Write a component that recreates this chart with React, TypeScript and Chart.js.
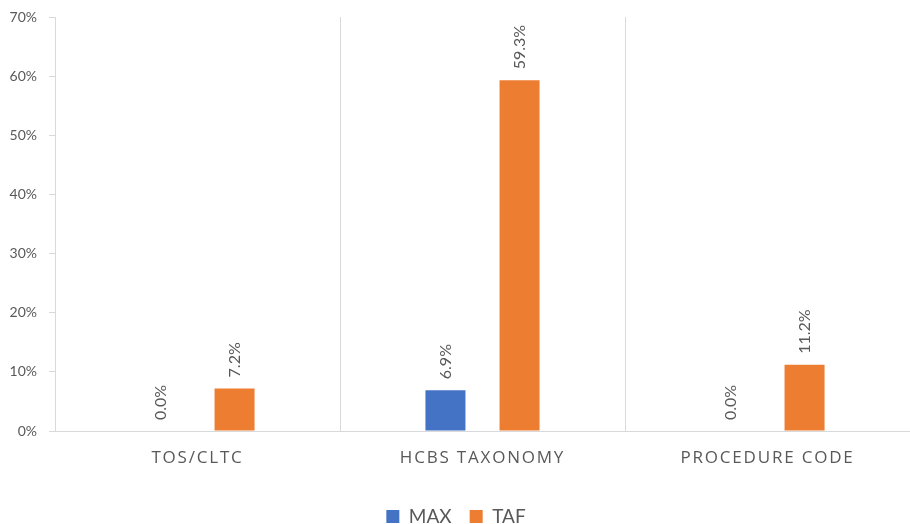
import React, { useEffect, useRef } from "react";
import { Chart, registerables } from "chart.js";

Chart.register(...registerables);

const categories = ["TOS/CLTC", "HCBS TAXONOMY", "PROCEDURE CODE"];
const maxValues = [0.0, 0.069, 0.0];
const tafValues = [0.072, 0.593, 0.112];
const seriesNames = ["MAX", "TAF"];
const seriesColors = ["#4472C4", "#ED7D31"];

const TEXT = "#595959";
const GRID = "#d9d9d9";

const labelPlugin = {
  id: "barLabels",
  afterDatasetsDraw(chart: any) {
    const ctx = chart.ctx;
    ctx.save();
    ctx.font = "16px Lato";
    ctx.fillStyle = TEXT;
    ctx.textAlign = "left";
    ctx.textBaseline = "middle";
    chart.data.datasets.forEach((ds: any, i: number) => {
      const meta = chart.getDatasetMeta(i);
      meta.data.forEach((el: any, j: number) => {
        const v = ds.data[j];
        ctx.save();
        ctx.translate(el.x, el.y - 11);
        ctx.rotate(-Math.PI / 2);
        ctx.fillText((v * 100).toFixed(1) + "%", 0, 0);
        ctx.restore();
      });
    });
    ctx.restore();
  },
  afterDraw(chart: any) {
    const ctx = chart.ctx;
    const xs = chart.scales.x;
    ctx.save();
    ctx.font = "17px 'Open Sans'";
    (ctx as any).letterSpacing = "1.8px";
    ctx.fillStyle = TEXT;
    ctx.textAlign = "center";
    ctx.textBaseline = "middle";
    categories.forEach((c, i) => {
      ctx.fillText(c, xs.getPixelForTick(i), chart.chartArea.bottom + 27);
    });
    ctx.restore();
  },
};

export default function App() {
  const ref = useRef<HTMLCanvasElement>(null);
  useEffect(() => {
    document.body.style.margin = "0";
    const chart = new Chart(ref.current!, {
      type: "bar",
      data: {
        labels: categories,
        datasets: [
          { label: seriesNames[0], data: maxValues, backgroundColor: seriesColors[0] },
          { label: seriesNames[1], data: tafValues, backgroundColor: seriesColors[1] },
        ],
      },
      options: {
        responsive: false,
        animation: false,
        datasets: { bar: { categoryPercentage: 0.52, barPercentage: 0.54 } },
        layout: { padding: { top: 17, right: -2, left: 0, bottom: -12 } },
        plugins: {
          tooltip: { enabled: false },
          legend: {
            position: "bottom",
            labels: {
              boxWidth: 13,
              boxHeight: 13,
              padding: 18,
              color: TEXT,
              font: { family: "Lato", size: 19 },
            },
          },
        },
        scales: {
          x: {
            offset: true,
            grid: {
              display: true,
              drawOnChartArea: true,
              drawTicks: false,
              offset: true,
              color: (c: any) => (c.type !== "tick" ? "transparent" : GRID),
            },
            border: { display: true, color: GRID },
            ticks: { color: "transparent", font: { size: 16 } },
            afterFit(s: any) { s.height = 58; },
          },
          y: {
            min: 0,
            max: 0.7,
            ticks: {
              stepSize: 0.1,
              color: TEXT,
              padding: 12,
              font: { family: "Lato", size: 14 },
              callback: (v: any) => Math.round(Number(v) * 100) + "%",
            },
            grid: { display: true, drawOnChartArea: false, drawTicks: true, tickLength: 6, color: GRID },
            border: { display: true, color: GRID },
            afterFit(s: any) { s.width = 55; s.paddingTop = 0; s.paddingBottom = 0; },
          },
        },
      },
      plugins: [labelPlugin],
    } as any);
    return () => chart.destroy();
  }, []);
  return (
    <div style={{ width: 910, height: 524 }}>
      <canvas ref={ref} width={910} height={524} />
    </div>
  );
}
